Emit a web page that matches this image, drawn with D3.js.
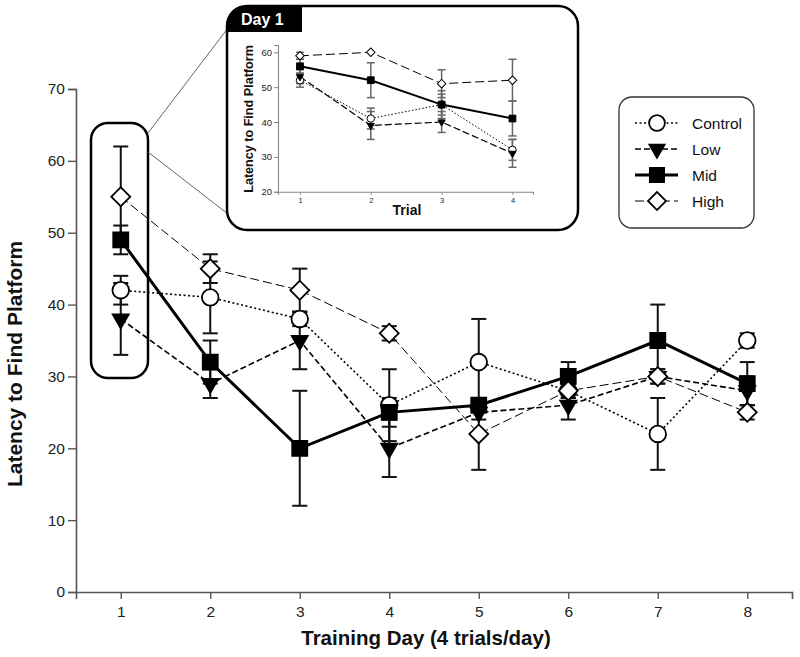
<!DOCTYPE html>
<html><head><meta charset="utf-8">
<script src="https://cdn.jsdelivr.net/npm/d3@7"></script>
<style>
body{margin:0;background:#fff;}
svg{display:block;font-family:"Liberation Sans",Arial,Helvetica,sans-serif;}
</style></head>
<body><svg id="c" width="800" height="657"></svg>
<script>
// ---------- data (main chart) ----------
const days = [1,2,3,4,5,6,7,8];
const groups = ["Control","Low","Mid","High"];
const controlMean = [42,41,38,26,32,28,22,35];
const controlErr  = [2,5,1,5,6,1,5,1];
const lowMean     = [38,29,35,20,25,26,30,28];
const lowErr      = [5,2,4,4,1,2,1,2];
const midMean     = [49,32,20,25,26,30,35,29];
const midErr      = [2,3,8,2,1,2,5,3];
const highMean    = [55,45,42,36,22,28,30,25];
const highErr     = [7,2,3,1,5,1,1,1];
const yTicks = [0,10,20,30,40,50,60,70];

// ---------- data (inset: Day 1 trials) ----------
const trials = [1,2,3,4];
const insetControl = [52,41,45,32];
const insetControlErr = [2,3,3,3];
const insetLow = [53,39,40,31];
const insetLowErr = [2,4,3,4];
const insetMid = [56,52,45,41];
const insetMidErr = [2,5,4,5];
const insetHigh = [59,60,51,52];
const insetHighErr = [1,0,4,6];
const insetYTicks = [20,30,40,50,60];

const svg = d3.select("#c");

const style = {
  Control:{dash:"2,2.5", w:1.6, sym:"circle", fill:"#fff"},
  Low:{dash:"6,3", w:1.6, sym:"triDown", fill:"#000"},
  Mid:{dash:null, w:3, sym:"square", fill:"#000"},
  High:{dash:"9,4", w:1, sym:"diamond", fill:"#fff"}
};

function symbolPath(kind, s){
  if(kind==="circle") return d3.symbol(d3.symbolCircle, Math.PI*Math.pow(8.3*s,2))();
  if(kind==="square") return d3.symbol(d3.symbolSquare, Math.pow(15*s,2))();
  if(kind==="diamond") return d3.symbol(d3.symbolSquare, Math.pow(13.4*s,2))();
  if(kind==="triDown") return d3.symbol(d3.symbolTriangle, Math.pow(16*s,2)*Math.sqrt(3)/4)();
}
function symbolRot(kind){
  if(kind==="diamond") return 45;
  if(kind==="triDown") return 180;
  return 0;
}

// ---------- main chart ----------
const x = d3.scaleLinear().domain([0.5,8.5]).range([76,792]);
const y = d3.scaleLinear().domain([0,70]).range([592,89]);

const xAxis = svg.append("g").attr("transform","translate(0,592)")
  .call(d3.axisBottom(x).tickValues(days).tickFormat(d3.format("d")).tickSizeOuter(0).tickSize(7).tickPadding(7));
const yAxis = svg.append("g").attr("transform","translate(76,0)")
  .call(d3.axisLeft(y).tickValues(yTicks).tickSizeOuter(0).tickSize(8).tickPadding(3));
[xAxis,yAxis].forEach(a=>{
  a.select(".domain").attr("stroke","#555").attr("stroke-width",1.6);
  a.selectAll(".tick line").attr("stroke","#555").attr("stroke-width",1.4);
  a.selectAll(".tick text").attr("font-size",15.5).attr("fill","#222")
    .attr("font-family","'Liberation Sans',Arial,sans-serif");
});

svg.append("text").attr("x",426).attr("y",645).attr("text-anchor","middle")
  .attr("font-size",20.5).attr("font-weight","bold").attr("fill","#111")
  .text("Training Day (4 trials/day)");
svg.append("text").attr("transform","translate(22,364) rotate(-90)").attr("text-anchor","middle")
  .attr("font-size",21).attr("font-weight","bold").attr("fill","#111")
  .text("Latency to Find Platform");

const mainData = {
  Control: days.map((d,i)=>({d, m:controlMean[i], e:controlErr[i]})),
  Low: days.map((d,i)=>({d, m:lowMean[i], e:lowErr[i]})),
  Mid: days.map((d,i)=>({d, m:midMean[i], e:midErr[i]})),
  High: days.map((d,i)=>({d, m:highMean[i], e:highErr[i]}))
};

// day-1 highlight box
svg.append("rect").attr("x",91).attr("y",123).attr("width",57).attr("height",255)
  .attr("rx",17).attr("fill","none").attr("stroke","#000").attr("stroke-width",2.5);
// connector lines
svg.append("line").attr("x1",148).attr("y1",133).attr("x2",228).attr("y2",28)
  .attr("stroke","#666").attr("stroke-width",1);
svg.append("line").attr("x1",148).attr("y1",152).attr("x2",228).attr("y2",214)
  .attr("stroke","#666").attr("stroke-width",1);

const gMain = svg.append("g");
groups.forEach(g=>{
  const eg = gMain.append("g");
  mainData[g].forEach(p=>{
    if(p.e<=0) return;
    const cx = x(p.d);
    eg.append("line").attr("x1",cx).attr("x2",cx).attr("y1",y(p.m-p.e)).attr("y2",y(p.m+p.e))
      .attr("stroke","#111").attr("stroke-width",2);
    [p.m-p.e,p.m+p.e].forEach(v=>eg.append("line").attr("x1",cx-7.5).attr("x2",cx+7.5)
      .attr("y1",y(v)).attr("y2",y(v)).attr("stroke","#111").attr("stroke-width",2));
  });
});
groups.forEach(g=>{
  const st = style[g];
  gMain.append("path").datum(mainData[g])
    .attr("d", d3.line().x(p=>x(p.d)).y(p=>y(p.m)))
    .attr("fill","none").attr("stroke","#000").attr("stroke-width",st.w)
    .attr("stroke-dasharray",st.dash);
});
groups.forEach(g=>{
  const st = style[g];
  gMain.selectAll(null).data(mainData[g]).enter().append("path")
    .attr("d", symbolPath(st.sym,1))
    .attr("transform",p=>`translate(${x(p.d)},${y(p.m)}) rotate(${symbolRot(st.sym)})`)
    .attr("fill",st.fill).attr("stroke","#000").attr("stroke-width",1.8);
});

// ---------- legend ----------
const lg = svg.append("g");
lg.append("rect").attr("x",619).attr("y",97).attr("width",135).attr("height",131).attr("rx",13)
  .attr("fill","#fff").attr("stroke","#333").attr("stroke-width",1.3);
groups.forEach((g,i)=>{
  const st = style[g];
  const ly = 123 + i*26;
  lg.append("line").attr("x1",635).attr("x2",678).attr("y1",ly).attr("y2",ly)
    .attr("stroke","#000").attr("stroke-width",st.w).attr("stroke-dasharray",st.dash);
  lg.append("path").attr("d",symbolPath(st.sym,0.95))
    .attr("transform",`translate(657,${ly}) rotate(${symbolRot(st.sym)})`)
    .attr("fill",st.fill).attr("stroke","#000").attr("stroke-width",1.8);
  lg.append("text").attr("x",692).attr("y",ly+5.5).attr("font-size",15.5).attr("fill","#111").text(g);
});

// ---------- inset ----------
const ins = svg.append("g");
ins.append("rect").attr("x",227).attr("y",6).attr("width",351).attr("height",224).attr("rx",20)
  .attr("fill","#fff").attr("stroke","#000").attr("stroke-width",2.5);
ins.append("path").attr("d","M227,32 L227,26 Q227,6 247,6 L302,6 L302,32 Z").attr("fill","#000");
ins.append("text").attr("x",241).attr("y",25).attr("font-size",16).attr("font-weight","bold")
  .attr("fill","#fff").text("Day 1");

const xi = d3.scaleLinear().domain([0.69,4.29]).range([278,533]);
const yi = d3.scaleLinear().domain([20,62.1]).range([191.7,45]);
const xia = ins.append("g").attr("transform","translate(0,191.7)")
  .call(d3.axisBottom(xi).tickValues(trials).tickFormat(d3.format("d")).tickSizeOuter(0).tickSize(3).tickPadding(3));
const yia = ins.append("g").attr("transform","translate(278,0)")
  .call(d3.axisLeft(yi).tickValues(insetYTicks).tickSizeOuter(0).tickSize(4).tickPadding(2));
[xia,yia].forEach(a=>{
  a.select(".domain").attr("stroke","#888").attr("stroke-width",1.1);
  a.selectAll(".tick line").attr("stroke","#888");
  a.selectAll(".tick text").attr("fill","#222").attr("font-family","'Liberation Sans',Arial,sans-serif");
});
yia.selectAll(".tick text").attr("font-size",9.5);
xia.selectAll(".tick text").attr("font-size",7.5);
ins.append("text").attr("x",407).attr("y",215).attr("text-anchor","middle").attr("font-size",14)
  .attr("font-weight","bold").attr("fill","#111").text("Trial");
ins.append("text").attr("transform","translate(253,119) rotate(-90)").attr("text-anchor","middle")
  .attr("font-size",12.6).attr("font-weight","bold").attr("fill","#111").text("Latency to Find Platform");

const insetData = {
  Control: trials.map((t,i)=>({d:t, m:insetControl[i], e:insetControlErr[i]})),
  Low: trials.map((t,i)=>({d:t, m:insetLow[i], e:insetLowErr[i]})),
  Mid: trials.map((t,i)=>({d:t, m:insetMid[i], e:insetMidErr[i]})),
  High: trials.map((t,i)=>({d:t, m:insetHigh[i], e:insetHighErr[i]}))
};
const istyle = {
  Control:{dash:"1.5,2", w:1},
  Low:{dash:"7,3", w:1.2},
  Mid:{dash:null, w:2},
  High:{dash:"9,4", w:1}
};
groups.forEach(g=>{
  insetData[g].forEach(p=>{
    if(p.e<=0) return;
    const cx = xi(p.d);
    ins.append("line").attr("x1",cx).attr("x2",cx).attr("y1",yi(p.m-p.e)).attr("y2",yi(p.m+p.e))
      .attr("stroke","#666").attr("stroke-width",1.5);
    [p.m-p.e,p.m+p.e].forEach(v=>ins.append("line").attr("x1",cx-4).attr("x2",cx+4)
      .attr("y1",yi(v)).attr("y2",yi(v)).attr("stroke","#666").attr("stroke-width",1.5));
  });
});
groups.forEach(g=>{
  const st = istyle[g];
  ins.append("path").datum(insetData[g])
    .attr("d", d3.line().x(p=>xi(p.d)).y(p=>yi(p.m)))
    .attr("fill","none").attr("stroke","#000").attr("stroke-width",st.w)
    .attr("stroke-dasharray",st.dash);
});
groups.forEach(g=>{
  const st = style[g];
  ins.selectAll(null).data(insetData[g]).enter().append("path")
    .attr("d", symbolPath(st.sym,0.45))
    .attr("transform",p=>`translate(${xi(p.d)},${yi(p.m)}) rotate(${symbolRot(st.sym)})`)
    .attr("fill",st.fill).attr("stroke","#000").attr("stroke-width",1);
});
</script></body></html>
